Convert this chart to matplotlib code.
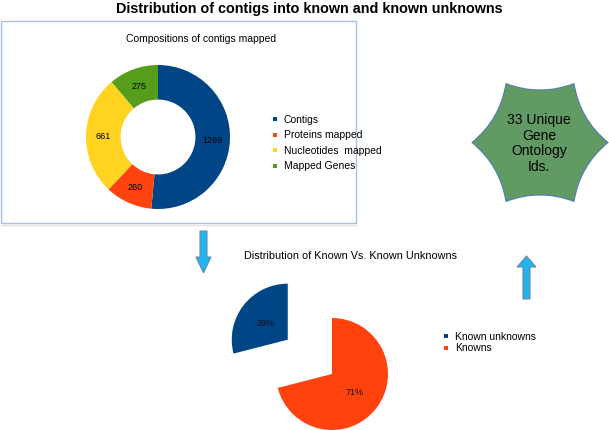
import matplotlib
matplotlib.use("Agg")
import matplotlib.pyplot as plt
from matplotlib.patches import Rectangle, Polygon, PathPatch
from matplotlib.path import Path
import numpy as np

plt.rcParams['font.family'] = ['Liberation Sans', 'DejaVu Sans']

# data
mapped_labels = ['Contigs', 'Proteins mapped', 'Nucleotides  mapped', 'Mapped Genes']
mapped_values = [1269, 260, 661, 275]
mapped_colors = ['#004586', '#ff420e', '#ffd320', '#579d1c']

known_labels = ['Known unknowns', 'Knowns']
known_values = [29, 71]
known_colors = ['#004586', '#ff420e']

W, H = 609, 431
fig = plt.figure(figsize=(W / 100, H / 100), dpi=100)

# background axes in pixel coordinates for text and shapes
bg = fig.add_axes([0, 0, 1, 1])
bg.set_xlim(0, W)
bg.set_ylim(H, 0)
bg.axis('off')


def px_axes(cx, cy, half):
    # square axes centred on a pixel position
    return fig.add_axes([(cx - half) / W, (H - cy - half) / H, 2 * half / W, 2 * half / H])


bg.text(309, 9, 'Distribution of contigs into known and known unknowns',
        ha='center', va='center', fontsize=10.4, fontweight='bold')

# frame round the donut chart
bg.add_patch(Rectangle((0.5, 22), 355.5, 202, fill=False, edgecolor='#a9c2e4', lw=1))
bg.plot([2, 356], [225.5, 225.5], color='#e4e4e4', lw=1)
bg.text(201, 39, 'Compositions of contigs mapped', ha='center', va='center', fontsize=7.5)

# donut
ax1 = px_axes(158, 138, 72)
wedges, _ = ax1.pie(mapped_values, colors=mapped_colors, startangle=90, counterclock=False,
                    wedgeprops=dict(width=0.48, linewidth=0))
for w, v in zip(wedges, mapped_values):
    ang = np.deg2rad((w.theta1 + w.theta2) / 2)
    ax1.text(0.76 * np.cos(ang), 0.76 * np.sin(ang), str(v), ha='center', va='center', fontsize=6.5)
ax1.set_xlim(-1, 1)
ax1.set_ylim(-1, 1)
ax1.set_aspect('equal')

for i, (lab, col) in enumerate(zip(mapped_labels, mapped_colors)):
    y = 120 + i * 15.5
    bg.scatter([275], [y], marker='s', s=9, color=col, linewidths=0)
    bg.text(284, y, lab, ha='left', va='center', fontsize=7.5)

# arrows
arrow_fill = '#22b4ee'
arrow_edge = '#6a8aa8'
down = [(200, 232), (207, 232), (207, 258), (211, 258), (203.5, 274), (196, 258), (200, 258)]
bg.add_patch(Polygon(down, closed=True, facecolor=arrow_fill, edgecolor=arrow_edge, lw=0.8))
up = [(523, 300), (530, 300), (530, 268), (536, 268), (526.5, 257), (517, 268), (523, 268)]
bg.add_patch(Polygon(up, closed=True, facecolor=arrow_fill, edgecolor=arrow_edge, lw=0.8))

# six pointed star with concave sides
scx, scy, r_out, r_ctl = 540, 143.5, 68, 46
verts, codes = [], []
for k in range(6):
    a0 = np.deg2rad(k * 60)
    am = np.deg2rad(k * 60 + 30)
    a1 = np.deg2rad(k * 60 + 60)
    p0 = (scx + r_out * np.cos(a0), scy - r_out * np.sin(a0))
    c = (scx + r_ctl * np.cos(am), scy - r_ctl * np.sin(am))
    p1 = (scx + r_out * np.cos(a1), scy - r_out * np.sin(a1))
    if k == 0:
        verts.append(p0)
        codes.append(Path.MOVETO)
    verts += [c, p1]
    codes += [Path.CURVE3, Path.CURVE3]
verts.append(verts[0])
codes.append(Path.CLOSEPOLY)
bg.add_patch(PathPatch(Path(verts, codes), facecolor='#629a64', edgecolor='#4f7cb0', lw=0.8))
bg.text(539, 143.5, '33 Unique\nGene\nOntology\nIds.', ha='center', va='center',
        fontsize=10, linespacing=1.15)

# known vs known unknowns
bg.text(351, 256, 'Distribution of Known Vs. Known Unknowns', ha='center', va='center', fontsize=7.8)
half = 130
ax2 = px_axes(332, 375, half)
ax2.pie(known_values, colors=known_colors, startangle=90, counterclock=True,
        explode=[1.0, 0], autopct='%1.0f%%', pctdistance=0.5,
        textprops=dict(fontsize=6.5, color='#111111'), wedgeprops=dict(linewidth=0))
lim = half / 56
ax2.set_xlim(-lim, lim)
ax2.set_ylim(-lim, lim)
ax2.set_aspect('equal')

for i, (lab, col) in enumerate(zip(known_labels, known_colors)):
    y = 337 + i * 11.5
    bg.scatter([446], [y], marker='s', s=9, color=col, linewidths=0)
    bg.text(455, y, lab, ha='left', va='center', fontsize=7.5)

fig.savefig('out.png', dpi=100)
